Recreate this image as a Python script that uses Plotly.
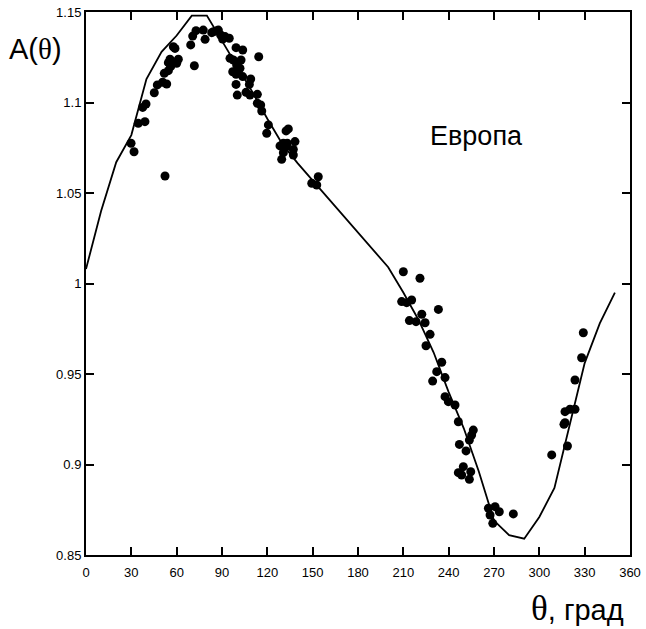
import plotly.graph_objects as go

# Model curve
theta_fit = [0, 10, 20, 30, 40, 50, 60, 70, 80, 90, 100, 110, 120, 130, 140, 150, 160, 170, 180, 190, 200,
             210, 220, 230, 240, 250, 260, 270, 280, 290, 300, 310, 320, 330, 340, 350]
a_fit = [1.008, 1.040, 1.067, 1.082, 1.113, 1.128, 1.137, 1.148, 1.148, 1.134, 1.120, 1.106, 1.091, 1.077,
         1.0665, 1.057, 1.047, 1.038, 1.028, 1.019, 1.009,
         0.995, 0.980, 0.962, 0.940, 0.920, 0.896, 0.869, 0.861, 0.859, 0.871, 0.887, 0.922, 0.956, 0.978, 0.995]

# Observations (Европа)
theta_obs = [29.8, 31.8, 52.3, 34.6, 39.0, 37.5, 39.7, 45.2, 47.2, 50.7, 53.4, 51.8, 54.5, 56.0, 54.5, 55.6,
             61.1, 60.0, 57.8, 58.9, 71.7, 69.3, 70.6, 72.8, 77.6, 78.8, 83.2, 86.5,
             84.3, 87.6, 89.1, 92.0, 94.8, 90.4, 99.3, 103.7, 114.3, 95.3, 97.5, 102.6, 99.7, 101.9, 97.1,
             99.3, 103.7, 109.0, 99.3, 108.1, 105.9, 100.1, 108.5, 113.4, 113.4, 115.6, 116.3, 120.7, 119.6,
             132.4, 133.9, 130.6, 133.2, 138.3, 128.4, 132.4, 137.2, 130.6, 137.2, 129.5, 153.7, 149.4, 152.7,
             210.0, 221.0, 208.9, 212.2, 215.5, 233.2, 214.0, 218.4, 222.2, 224.4, 227.7, 225.0, 235.4, 232.1,
             237.6, 229.4, 237.6, 239.8, 244.2,
             246.4, 256.3, 255.2, 253.7, 247.1, 251.5, 249.7, 246.4, 248.6, 254.6, 253.7,
             266.3, 270.7, 273.5, 267.4, 269.2, 282.8,
             308.2, 317.0, 320.3, 323.6, 317.0, 316.3, 318.6, 323.6, 328.0, 329.1]
a_obs = [1.0775, 1.0728, 1.0594, 1.0885, 1.0894, 1.0973, 1.0992, 1.1054, 1.1097, 1.1112, 1.1102, 1.1161,
         1.1176, 1.1198, 1.1220, 1.1239, 1.1239, 1.1217, 1.1308, 1.1299, 1.1203, 1.1318, 1.1367, 1.1397,
         1.1400, 1.1349, 1.1386, 1.1397,
         1.1391, 1.1400, 1.1373, 1.1364, 1.1355, 1.1351, 1.1303, 1.1290, 1.1253, 1.1244, 1.1235, 1.1235,
         1.1207, 1.1189, 1.1170, 1.1156, 1.1143, 1.1130, 1.1100, 1.1100, 1.1056, 1.1041, 1.1041, 1.1045,
         1.0996, 1.0986, 1.0953, 1.0876, 1.0830,
         1.0843, 1.0854, 1.0775, 1.0775, 1.0784, 1.0760, 1.0756, 1.0741, 1.0723, 1.0710, 1.0686, 1.0590,
         1.0554, 1.0544,
         1.0065, 1.0029, 0.9900, 0.9894, 0.9909, 0.9857, 0.9795, 0.9789, 0.9830, 0.9783, 0.9719, 0.9656,
         0.9565, 0.9513, 0.9480, 0.9461, 0.9375, 0.9347, 0.9329,
         0.9236, 0.9190, 0.9163, 0.9135, 0.9111, 0.9075, 0.8988, 0.8955, 0.8942, 0.8960, 0.8918,
         0.8758, 0.8767, 0.8739, 0.8721, 0.8675, 0.8727,
         0.9053, 0.9292, 0.9305, 0.9305, 0.9231, 0.9222, 0.9102, 0.9467, 0.9590, 0.9728]

x_ticks = list(range(0, 361, 30))
y_ticks = [0.85, 0.9, 0.95, 1.0, 1.05, 1.1, 1.15]
y_tick_text = ["0.85", "0.9", "0.95", "1", "1.05", "1.1", "1.15"]

fig = go.Figure()
fig.add_trace(go.Scatter(x=theta_fit, y=a_fit, mode="lines",
                         line=dict(color="black", width=1.8), hoverinfo="skip"))
fig.add_trace(go.Scatter(x=theta_obs, y=a_obs, mode="markers",
                         marker=dict(color="black", size=9, line=dict(width=0))))

axis_common = dict(showline=True, linecolor="black", linewidth=2, mirror="ticks",
                   ticks="inside", ticklen=8, tickwidth=1.5, tickcolor="black",
                   showgrid=False, zeroline=False, ticklabeloverflow="allow", automargin=False,
                   tickfont=dict(family="Liberation Sans, Arial", size=13, color="black"))

fig.update_xaxes(range=[0, 360], tickvals=x_ticks, ticktext=[str(v) for v in x_ticks],
                 ticklabelstandoff=4, **axis_common)
fig.update_yaxes(range=[0.85, 1.15], tickvals=y_ticks, ticktext=y_tick_text, **axis_common)

fig.add_annotation(xref="paper", yref="paper", x=-0.145, y=0.932, xanchor="left", yanchor="middle",
                   showarrow=False,
                   text="A(<span style='font-family:Liberation Serif, Times New Roman'>θ</span>)",
                   font=dict(family="Liberation Sans, Arial", size=29, color="black"))
fig.add_annotation(xref="paper", yref="paper", x=0.629, y=0.772, xanchor="left", yanchor="middle",
                   showarrow=False, text="Европа",
                   font=dict(family="Liberation Sans, Arial", size=27, color="black"))
fig.add_annotation(xref="paper", yref="paper", x=0.814, y=-0.099, xanchor="left", yanchor="middle",
                   showarrow=False,
                   text="<span style='font-family:Liberation Serif, Times New Roman;font-size:35px'>θ</span>, град",
                   font=dict(family="Liberation Sans, Arial", size=29, color="black"))

fig.update_layout(width=646, height=629, showlegend=False,
                  plot_bgcolor="white", paper_bgcolor="white",
                  margin=dict(l=86, r=16, t=12, b=74))

# remove the default page margin so the figure sits at the window origin
fig.write_html("out.html", config={"displayModeBar": False},
               post_script="document.body.style.margin='0';document.body.style.overflow='hidden';")
